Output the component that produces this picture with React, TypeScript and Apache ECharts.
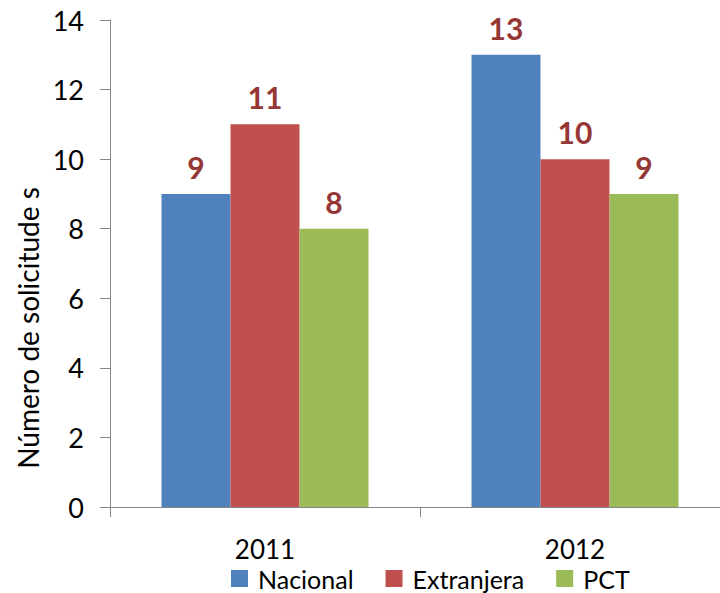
import React, { useEffect, useRef } from "react";
import * as echarts from "echarts";

const categories = ["2011", "2012"];
const nacional = [9, 13];
const extranjera = [11, 10];
const pct = [8, 9];
const seriesNames = ["Nacional", "Extranjera", "PCT"];
const yAxisTitle = "Número de solicitude s";

const FONT = "Lato, 'Open Sans', sans-serif";

export default function App() {
  const ref = useRef<HTMLDivElement>(null);
  useEffect(() => {
    if (!ref.current) return;
    const chart = echarts.init(ref.current, undefined, { renderer: "svg" });
    const label = {
      show: true,
      position: "top",
      distance: 12,
      color: "#953735",
      fontWeight: "bold",
      fontSize: 30,
      fontFamily: FONT,
    };
    chart.setOption({
      animation: false,
      backgroundColor: "#ffffff",
      textStyle: { fontFamily: FONT },
      grid: { left: 110, top: 20, width: 620, height: 487, containLabel: false },
      graphic: [
        {
          type: "text",
          x: 28,
          y: 328,
          rotation: Math.PI / 2,
          style: {
            text: yAxisTitle,
            fontSize: 28,
            fontFamily: FONT,
            fill: "#000",
            align: "center",
            verticalAlign: "middle",
          },
        },
      ],
      legend: {
        top: 566,
        left: 231,
        padding: 0,
        itemWidth: 17,
        itemHeight: 17,
        itemGap: 32,
        icon: "rect",
        textStyle: { fontSize: 25, lineHeight: 22, color: "#000", fontFamily: FONT, padding: [0, 0, 0, 5] },
        data: seriesNames,
      },
      xAxis: {
        type: "category",
        data: categories,
        axisLine: { lineStyle: { color: "#868686", width: 1 } },
        axisTick: { show: true, length: 10, lineStyle: { color: "#868686" } },
        axisLabel: { fontSize: 26, lineHeight: 24, color: "#000", margin: 30, fontFamily: FONT },
      },
      yAxis: {
        type: "value",
        min: 0,
        max: 14,
        interval: 2,
        axisLine: { show: true, lineStyle: { color: "#868686", width: 1 } },
        axisTick: { show: true, length: 10, lineStyle: { color: "#868686" } },
        splitLine: { show: false },
        axisLabel: { fontSize: 27, color: "#000", margin: 26, fontFamily: FONT },
      },
      series: [
        { name: seriesNames[0], type: "bar", data: nacional, barWidth: 69, barGap: "0%", itemStyle: { color: "#4F81BD" }, label },
        { name: seriesNames[1], type: "bar", data: extranjera, barWidth: 69, barGap: "0%", itemStyle: { color: "#C0504D" }, label },
        { name: seriesNames[2], type: "bar", data: pct, barWidth: 69, barGap: "0%", itemStyle: { color: "#9BBB59" }, label },
      ],
    });
    return () => chart.dispose();
  }, []);
  return (
    <div style={{ width: 720, height: 593, position: "absolute", left: 0, top: 0, overflow: "hidden" }}>
      <div ref={ref} style={{ width: 740, height: 593 }} />
    </div>
  );
}
